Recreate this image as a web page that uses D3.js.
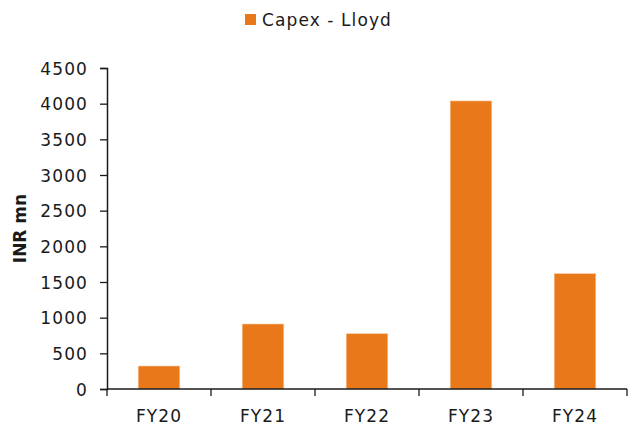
<!DOCTYPE html>
<html><head><meta charset="utf-8">
<script src="https://cdn.jsdelivr.net/npm/d3@7"></script>
<style>
body{margin:0;background:#fff;}
text{font-family:"DejaVu Sans",sans-serif;fill:#1a1a1a;}
</style></head>
<body><svg id="c" width="638" height="425"></svg>
<script>
const categories = ["FY20","FY21","FY22","FY23","FY24"];
const capexLloyd = [322, 911, 775, 4038, 1617];
const yTicks = [0,500,1000,1500,2000,2500,3000,3500,4000,4500];
const seriesName = "Capex - Lloyd";
const yTitle = "INR mn";

const svg = d3.select("#c");
const m = {l:107, r:11, t:68, b:36};
const W = 638, H = 425;
const color = "#E8781A";

const x = d3.scaleBand().domain(categories).range([m.l, W-m.r]).paddingInner(0.6).paddingOuter(0.3);
const xb = d3.scaleBand().domain(categories).range([m.l, W-m.r]);
const y = d3.scaleLinear().domain([0,4500]).range([H-m.b, m.t]);

svg.append("g").selectAll("rect").data(categories).join("rect")
  .attr("x", d=>x(d)).attr("width", x.bandwidth())
  .attr("y", (d,i)=>y(capexLloyd[i])).attr("height", (d,i)=>y(0)-y(capexLloyd[i]))
  .attr("fill", color).attr("stroke","#f6c9a0").attr("stroke-width",0.6);

// y axis
const ya = svg.append("g").attr("transform",`translate(${m.l},0)`)
  .call(d3.axisLeft(y).tickValues(yTicks).tickSize(7).tickPadding(12).tickFormat(d3.format("d")));
ya.select(".domain").attr("stroke","#1a1a1a").attr("stroke-width",1.5);
ya.selectAll(".tick line").attr("stroke","#1a1a1a").attr("stroke-width",1.3);
ya.selectAll("text").style("font-size","17px").style("letter-spacing","1.1px").attr("fill","#1a1a1a").attr("dy","0.36em");

// x axis
const xa = svg.append("g").attr("transform",`translate(0,${y(0)})`);
xa.append("line").attr("x1",m.l).attr("x2",W-m.r).attr("stroke","#1a1a1a").attr("stroke-width",1.5);
const bounds = categories.map(d=>xb(d)).concat([xb(categories[categories.length-1])+xb.bandwidth()]);
xa.selectAll("line.t").data(bounds).join("line").attr("class","t")
  .attr("x1",d=>d).attr("x2",d=>d).attr("y1",0).attr("y2",7)
  .attr("stroke","#1a1a1a").attr("stroke-width",1.3);
xa.selectAll("text").data(categories).join("text")
  .attr("x",d=>xb(d)+xb.bandwidth()/2).attr("y",33)
  .attr("text-anchor","middle").style("font-size","17px").style("letter-spacing","1.1px")
  .text(d=>d);

// y title
svg.append("text").attr("transform",`translate(26,${(y(0)+y(4500))/2}) rotate(-90)`)
  .attr("text-anchor","middle").style("font-size","17px").style("font-weight","bold")
  .text(yTitle);

// legend
const lg = svg.append("g");
lg.append("rect").attr("x",245).attr("y",14).attr("width",11).attr("height",11).attr("fill",color);
lg.append("text").attr("x",262).attr("y",26).style("font-size","17px").style("letter-spacing","1.1px").text(seriesName);
</script></body></html>
